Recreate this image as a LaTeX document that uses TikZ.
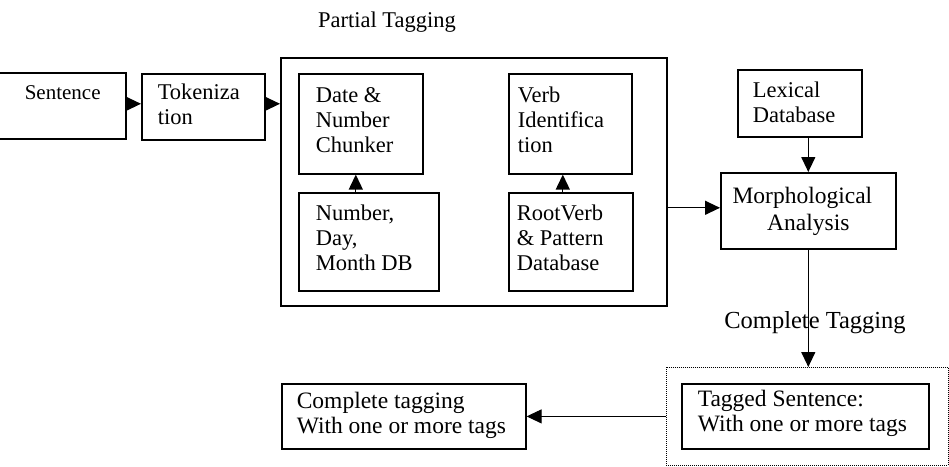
\documentclass[tikz,border=0pt]{standalone}
\usepackage{fontspec}
\setmainfont{Liberation Serif}
\usetikzlibrary{arrows.meta}

% Fixed-size text panel: width, height, paragraph setup, top skip, lines
\newcommand\panel[5]{%
  \vbox to #2{\hsize=#1\relax\parindent=0pt\leftskip=0pt\relax
    \rightskip=0pt plus 1fil\relax #3\relax
    \vskip #4\relax\noindent\strut#5\par\vss}}

\tikzset{
  box/.style={draw, line width=1.6pt, inner sep=0pt, anchor=north west,
    font=\fontsize{22.5}{25}\selectfont},
  frame/.style={draw, line width=1.6pt, inner sep=0pt, anchor=north west},
  dotframe/.style={draw, line width=0.8pt, dash pattern=on 1pt off 1pt,
    inner sep=0pt, anchor=north west},
  arr/.style={line width=1.3pt, -{Triangle[length=15pt,width=14pt]}},
  thinarr/.style={line width=1pt, -{Triangle[length=15pt,width=14pt]}},
  caption/.style={anchor=base, inner sep=0pt, font=\fontsize{22.5}{25}\selectfont},
}

\begin{document}
\begin{tikzpicture}[x=1pt, y=-1pt]
  \useasboundingbox (0,0) rectangle (949,466);

  % input and tokenizer
  \node[box, font=\fontsize{21}{25}\selectfont] (sent) at (-6,72)
    {\panel{131pt}{66pt}{\leftskip=30pt}{9.5pt}{Sentence}};
  \node[box] (tok) at (141,73)
    {\panel{123pt}{66pt}{\leftskip=16pt}{8.5pt}{Tokeniza\\tion}};

  % partial tagging stage
  \node[caption] (ptlabel) at (387,27) {Partial Tagging};
  \node[frame, minimum width=386pt, minimum height=248pt] (big) at (280,57) {};
  \node[box] (date) at (298,73)
    {\panel{124pt}{100pt}{\leftskip=17pt}{11pt}{Date \&\\Number\\Chunker}};
  \node[box] (num) at (298,192)
    {\panel{140pt}{98pt}{\leftskip=17pt}{10.5pt}{Number,\\Day,\\Month DB}};
  \node[box] (verb) at (508,73)
    {\panel{123pt}{100pt}{\leftskip=9pt}{11pt}{Verb\\Identifica\\tion}};
  \node[box] (root) at (508,192)
    {\panel{124pt}{98pt}{\leftskip=8pt}{10.5pt}{RootVerb\\\& Pattern\\Database}};

  % morphology
  \node[box] (lex) at (737,69)
    {\panel{124pt}{67pt}{\leftskip=15pt}{10.5pt}{Lexical\\Database}};
  \node[box, font=\fontsize{23.5}{27}\selectfont] (morph) at (720,172)
    {\panel{175pt}{76pt}{\leftskip=0pt plus 1fil\rightskip=0pt plus 1fil\parfillskip=0pt}{12pt}{Morphological\\Analysis}};

  % complete tagging stage
  \node[dotframe, minimum width=282pt, minimum height=98pt] (outer) at (666,367) {};
  \node[box, font=\fontsize{23.5}{25}\selectfont] (tagged) at (681,383)
    {\panel{247pt}{65pt}{\leftskip=16pt}{5.5pt}{Tagged Sentence:\\With one or more tags}};
  \node[box, font=\fontsize{23.5}{25}\selectfont] (comp) at (281,383)
    {\panel{244pt}{65pt}{\leftskip=15pt}{7.5pt}{Complete tagging\\With one or more tags}};

  % connectors
  \draw[arr] ([yshift=2pt]sent.east) -- ([yshift=2pt]sent.east -| tok.west);
  \draw[arr] ([yshift=3pt]tok.east) -- ([yshift=3pt]tok.east -| big.west);
  \draw[arr] ([xshift=-5pt]date.south |- num.north) -- ([xshift=-5pt]date.south);
  \draw[arr] ([xshift=-7.5pt]verb.south |- root.north) -- ([xshift=-7.5pt]verb.south);
  \draw[arr] ([yshift=3pt]morph.west -| big.east) -- ([yshift=3pt]morph.west);
  \draw[arr] (lex.south -| morph.north) -- (morph.north);
  \draw[arr] (morph.south) -- (morph.south |- outer.north);
  \node[caption, font=\fontsize{24.5}{27}\selectfont] (ctlabel) at (815,328) {Complete Tagging};
  \draw[thinarr] (outer.west) -- (outer.west -| comp.east);
\end{tikzpicture}
\end{document}
